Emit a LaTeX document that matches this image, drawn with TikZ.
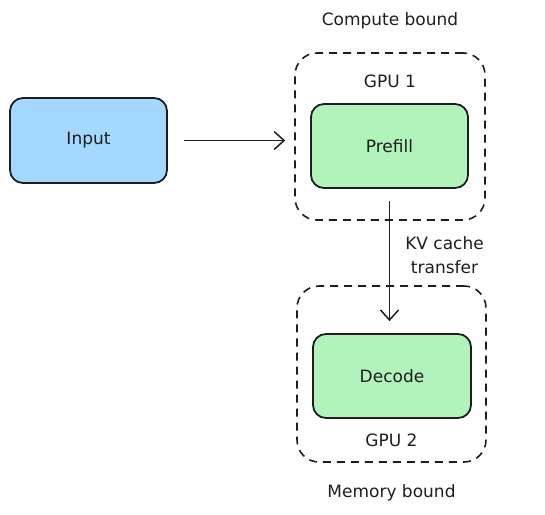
\documentclass[tikz,border=0pt]{standalone}
\usepackage{fontspec}
\setmainfont{DejaVu Sans}
\usepackage{xcolor}
\usepackage{tikz}
\usetikzlibrary{arrows.meta,positioning}

\definecolor{inkgray}{HTML}{1E1E1E}
\definecolor{inputblue}{HTML}{A5D8FF}
\definecolor{stagegreen}{HTML}{B2F2BB}

\begin{document}
\begin{tikzpicture}[
		x=1pt, y=-1pt,
		font=\fontsize{17}{24}\selectfont,
		text=inkgray,
		>={Straight Barb[length=10pt,width=18pt]},
		line/.style={->, line width=1.5pt, draw=inkgray},
		stage/.style={draw=inkgray, line width=1.8pt, rounded corners=13pt, align=center, minimum width=157pt, minimum height=84pt, fill=stagegreen},
		inbox/.style={stage, fill=inputblue, minimum height=85pt},
		gpu/.style={draw=inkgray, dashed, dash pattern=on 8pt off 6pt, line width=1.6pt, rounded corners=22pt, minimum width=190pt},
		tag/.style={inner sep=1pt}
		]
		\useasboundingbox (0,0) rectangle (545,514);
		% GPU groups
		\node[gpu, minimum height=167pt] (gpuA) at (390,136.5) {};
		\node[gpu, minimum height=176pt, minimum width=189pt] (gpuB) at (391.5,374) {};
		
		% Stages
		\node[inbox] (input) at (88.5,140.5) {Input};
		\node[stage] (prefill) at (389.5,146) {Prefill};
		\node[stage, minimum width=158pt] (decode) at (392,376) {Decode};
		
		% Group labels
		\node[tag] (gpuonelbl) at ([yshift=-29pt]gpuA.north) {GPU 1};
		\node[tag] (computelbl) at ([yshift=31pt]gpuA.north) {Compute bound};
		\node[tag] (gputwolbl) at ([yshift=22pt]gpuB.south) {GPU 2};
		\node[tag] (memorylbl) at ([yshift=-30pt]gpuB.south) {Memory bound};
		
		% Flow
		\draw[line] ([xshift=16pt]input.east) -- ([xshift=-9pt]input.east -| gpuA.west);
		\draw[line] ([yshift=-12pt]prefill.south) -- node[pos=0.45, right=14pt, align=center, tag]{KV cache\\transfer} ([yshift=12pt]prefill.south |- decode.north);
	\end{tikzpicture}
\end{document}
